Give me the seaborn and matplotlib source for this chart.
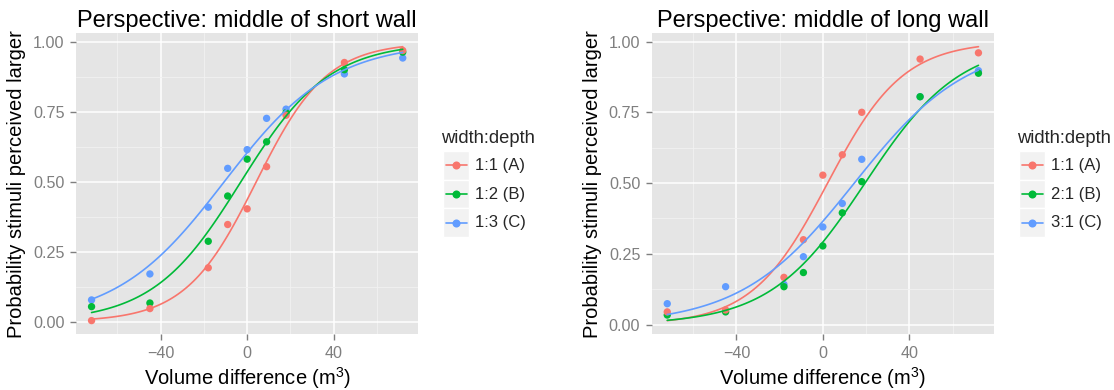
import numpy as np
import pandas as pd
import matplotlib
matplotlib.use("Agg")
import matplotlib.pyplot as plt
import seaborn as sns
from matplotlib.lines import Line2D
from matplotlib.patches import Rectangle
from matplotlib.ticker import FormatStrFormatter

# data
volume = [-72, -45, -18, -9, 0, 9, 18, 45, 72]

short_a = [0.004, 0.047, 0.193, 0.348, 0.404, 0.555, 0.739, 0.928, 0.971]
short_b = [0.054, 0.067, 0.288, 0.450, 0.582, 0.644, 0.748, 0.902, 0.965]
short_c = [0.078, 0.171, 0.410, 0.549, 0.616, 0.728, 0.761, 0.887, 0.944]

long_a = [0.045, 0.052, 0.167, 0.300, 0.528, 0.600, 0.750, 0.938, 0.960]
long_b = [0.034, 0.045, 0.134, 0.184, 0.278, 0.395, 0.505, 0.805, 0.888]
long_c = [0.074, 0.134, 0.142, 0.240, 0.345, 0.428, 0.584, 0.805, 0.897]

short_labels = ["1:1 (A)", "1:2 (B)", "1:3 (C)"]
long_labels = ["1:1 (A)", "2:1 (B)", "3:1 (C)"]
titles = ["Perspective: middle of short wall", "Perspective: middle of long wall"]
colors = ["#F8766D", "#00BA38", "#619CFF"]

W, H = 1114, 390

sns.set_theme(style="darkgrid")
plt.rcParams["font.family"] = ["Liberation Sans", "DejaVu Sans"]
plt.rcParams["mathtext.fontset"] = "custom"
plt.rcParams["mathtext.rm"] = "Liberation Sans"


def logit_fit(x, y):
    # binomial glm on the proportions (IRLS), like stat_smooth(method="glm")
    x = np.asarray(x, float)
    y = np.asarray(y, float)
    X = np.column_stack([np.ones_like(x), x])
    beta = np.zeros(2)
    for _ in range(50):
        mu = 1 / (1 + np.exp(-(X @ beta)))
        w = mu * (1 - mu)
        z = X @ beta + (y - mu) / w
        beta = np.linalg.solve(X.T @ (w[:, None] * X), X.T @ (w * z))
    grid = np.linspace(min(x), max(x), 120)
    return grid, 1 / (1 + np.exp(-(beta[0] + beta[1] * grid)))


def draw_panel(ax, series, labels, title):
    pts = []
    fits = []
    for vals, lab in zip(series, labels):
        pts.append(pd.DataFrame({"x": volume, "y": vals, "group": lab}))
        gx, gy = logit_fit(volume, vals)
        fits.append(pd.DataFrame({"x": gx, "y": gy, "group": lab}))
    df_pts = pd.concat(pts[::-1], ignore_index=True)
    df_fit = pd.concat(fits, ignore_index=True)
    pal = dict(zip(labels, colors))

    sns.scatterplot(data=df_pts, x="x", y="y", hue="group", palette=pal, s=28,
                    linewidth=0, legend=False, ax=ax, zorder=3)
    sns.lineplot(data=df_fit, x="x", y="y", hue="group", palette=pal, lw=1.2,
                 legend=False, ax=ax, zorder=4, sort=False, estimator=None)

    allv = np.concatenate([df_pts["y"], df_fit["y"]])
    lo, hi = allv.min(), allv.max()
    pad = (hi - lo) * 0.05
    ax.set_ylim(lo - pad, hi + pad)
    ax.set_xlim(-72 - 7.2, 72 + 7.2)

    ax.set_facecolor("#E5E5E5")
    for s in ax.spines.values():
        s.set_visible(False)
    ax.set_xticks([-40, 0, 40])
    ax.set_xticks([-60, -20, 20, 60], minor=True)
    ax.set_yticks([0, 0.25, 0.5, 0.75, 1.0])
    ax.set_yticks([0.125, 0.375, 0.625, 0.875], minor=True)
    ax.yaxis.set_major_formatter(FormatStrFormatter("%.2f"))
    ax.grid(which="major", color="white", lw=1.1)
    ax.grid(which="minor", color="#F2F2F2", lw=0.6)
    ax.set_axisbelow(True)
    ax.tick_params(which="major", length=4.2, width=1.0, color="#7F7F7F",
                   labelcolor="#7F7F7F", labelsize=11.6, pad=4.0,
                   bottom=True, left=True)
    ax.tick_params(which="minor", length=0)

    ax.set_title(title, fontsize=17, color="black", pad=4)
    ax.set_xlabel("Volume difference (m$^3$)", fontsize=14.5, color="black", labelpad=3)
    ax.set_ylabel("Probability stimuli perceived larger", fontsize=14.5, color="black",
                  labelpad=5)


def draw_legend(fig, x0, labels):
    fx = lambda px: px / W
    fy = lambda py: 1 - py / H
    fig.text(fx(x0 - 1.5), fy(138), "width:depth", fontsize=13.2, ha="left", va="center")
    step = 28.7
    for i, (lab, col) in enumerate(zip(labels, colors)):
        cy = 165.3 + i * step
        fig.patches.append(Rectangle((fx(x0), fy(cy + step / 2)), fx(26), step / H,
                                     transform=fig.transFigure, facecolor="#F2F2F2",
                                     edgecolor="white", lw=1.0))
        fig.lines.append(Line2D([fx(x0 + 2.5), fx(x0 + 23.5)], [fy(cy), fy(cy)],
                                transform=fig.transFigure, color=col, lw=1.2))
        fig.lines.append(Line2D([fx(x0 + 13)], [fy(cy)], transform=fig.transFigure,
                                color=col, marker="o", ms=5.8, mew=0))
        fig.text(fx(x0 + 32), fy(cy), lab, fontsize=12, ha="left", va="center")


fig = plt.figure(figsize=(W / 100, H / 100), dpi=100)
fig.patch.set_facecolor("white")

ax1 = fig.add_axes([76 / W, (H - 334.3) / H, 342.3 / W, 301.3 / H])
ax2 = fig.add_axes([651.7 / W, (H - 334.3) / H, 342.3 / W, 301.3 / H])

draw_panel(ax1, [short_a, short_b, short_c], short_labels, titles[0])
draw_panel(ax2, [long_a, long_b, long_c], long_labels, titles[1])

draw_legend(fig, 443, short_labels)
draw_legend(fig, 1019, long_labels)

fig.savefig("out.png", dpi=100, facecolor="white")
